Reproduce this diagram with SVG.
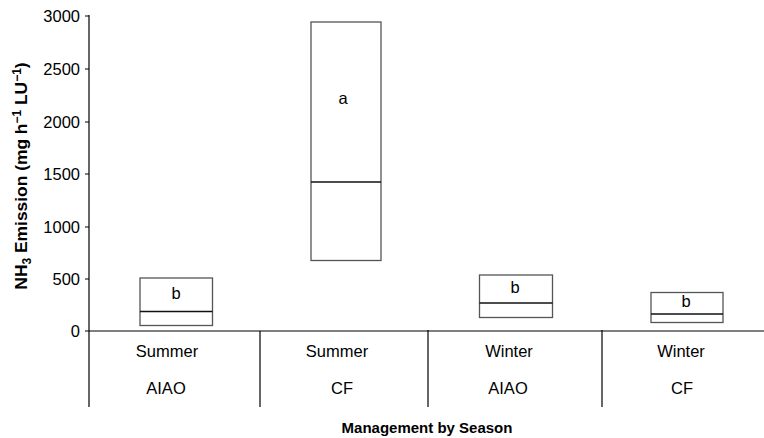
<svg xmlns="http://www.w3.org/2000/svg" width="764" height="438" viewBox="0 0 764 438">
<style>
text{font-family:"Liberation Sans",Arial,sans-serif;font-size:16.5px;fill:#000}
.tick{text-anchor:end}
.c{text-anchor:middle}
.b{font-weight:bold}
.ax{stroke:#000;stroke-width:1.2;fill:none}
.box{stroke:#555;stroke-width:1.3;fill:#fff}
.med{stroke:#111;stroke-width:1.3}
</style>
<rect width="764" height="438" fill="#fff"/>
<g id="axes">
<line class="ax" x1="89" y1="15" x2="89" y2="407"/>
<line class="ax" x1="89" y1="331" x2="764" y2="331"/>
<line class="ax" x1="260" y1="331" x2="260" y2="407"/>
<line class="ax" x1="428" y1="330" x2="428" y2="407"/>
<line class="ax" x1="602" y1="330" x2="602" y2="407"/>
<g stroke="#000" stroke-width="1">
<line x1="85" y1="16" x2="89" y2="16"/>
<line x1="85" y1="69" x2="89" y2="69"/>
<line x1="85" y1="122" x2="89" y2="122"/>
<line x1="85" y1="174" x2="89" y2="174"/>
<line x1="85" y1="227" x2="89" y2="227"/>
<line x1="85" y1="279" x2="89" y2="279"/>
<line x1="85" y1="331" x2="89" y2="331"/>
</g>
<text class="tick" x="80" y="22">3000</text>
<text class="tick" x="80" y="75">2500</text>
<text class="tick" x="80" y="128">2000</text>
<text class="tick" x="80" y="180">1500</text>
<text class="tick" x="80" y="233">1000</text>
<text class="tick" x="80" y="285">500</text>
<text class="tick" x="80" y="337">0</text>
<text class="b c" style="font-size:17.4px" transform="translate(27,176) rotate(-90)">NH<tspan style="font-size:12px" dy="4">3</tspan><tspan dy="-4"> Emission (mg h</tspan><tspan style="font-size:12px" dy="-6.5">−1</tspan><tspan dy="6.5"> LU</tspan><tspan style="font-size:12px" dy="-6.5">−1</tspan><tspan dy="6.5">)</tspan></text>
<text class="b c" x="427" y="433" style="font-size:15px">Management by Season</text>
</g>
<g id="summer-aiao">
<rect class="box" x="140" y="278" width="72.5" height="47.5"/>
<line class="med" x1="140" y1="311.5" x2="212.5" y2="311.5"/>
<text class="c" x="176" y="299">b</text>
<text class="c" x="167" y="357">Summer</text>
<text class="c" x="166" y="394">AIAO</text>
</g>
<g id="summer-cf">
<rect class="box" x="311" y="22" width="70" height="238.5"/>
<line class="med" x1="311" y1="182" x2="381" y2="182"/>
<text class="c" x="343" y="104">a</text>
<text class="c" x="337" y="357">Summer</text>
<text class="c" x="342" y="394">CF</text>
</g>
<g id="winter-aiao">
<rect class="box" x="479.5" y="275" width="73" height="42.5"/>
<line class="med" x1="479.5" y1="303" x2="552.5" y2="303"/>
<text class="c" x="515" y="293">b</text>
<text class="c" x="509" y="357">Winter</text>
<text class="c" x="508" y="394">AIAO</text>
</g>
<g id="winter-cf">
<rect class="box" x="651" y="292.5" width="72" height="30"/>
<line class="med" x1="651" y1="314" x2="723" y2="314"/>
<text class="c" x="686" y="307">b</text>
<text class="c" x="681" y="357">Winter</text>
<text class="c" x="682" y="394">CF</text>
</g>
</svg>
